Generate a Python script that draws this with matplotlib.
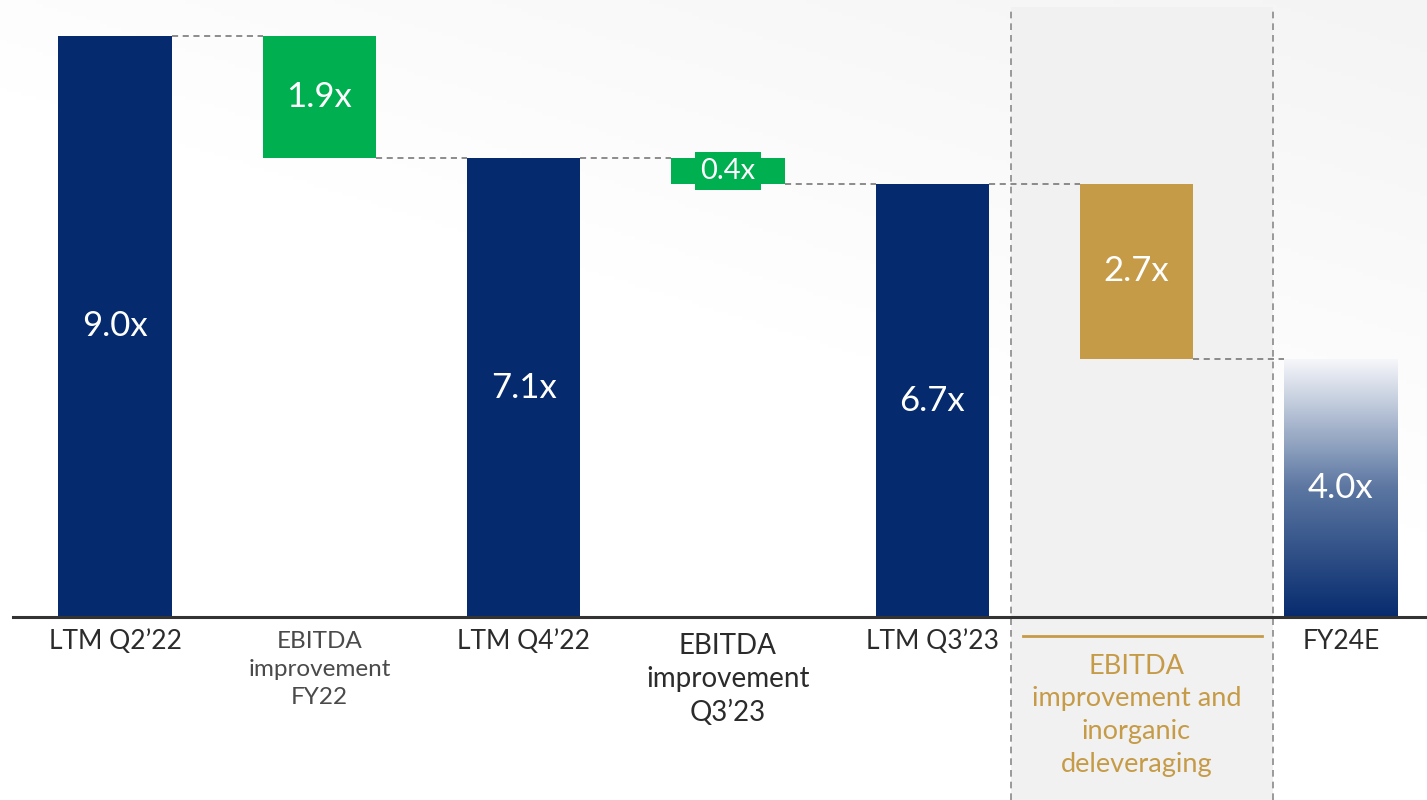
import numpy as np
import matplotlib.pyplot as plt
from matplotlib.colors import LinearSegmentedColormap
from matplotlib.patches import Rectangle

categories = ["LTM Q2’22", "EBITDA\nimprovement\nFY22", "LTM Q4’22",
              "EBITDA\nimprovement\nQ3’23", "LTM Q3’23",
              "EBITDA\nimprovement and\ninorganic\ndeleveraging", "FY24E"]
values = [9.0, -1.9, 7.1, -0.4, 6.7, -2.7, 4.0]
kinds = ["total", "step", "total", "step", "total", "step", "total"]

NAVY = "#052a6d"
GREEN = "#00b050"
GOLD = "#c69b47"
TEXT = "#2b2b2b"

plt.rcParams["font.family"] = ["Lato", "DejaVu Sans"]

XMIN, XMAX = -0.563, 6.422
YMIN, YMAX = -2.833, 9.55

fig = plt.figure(figsize=(14.27, 8), dpi=100)
ax = fig.add_axes([0, 0, 1, 1])
ax.set_xlim(XMIN, XMAX)
ax.set_ylim(YMIN, YMAX)
ax.axis("off")

# faint background sheen, top right
g = np.linspace(0, 1, 200)
X, Y = np.meshgrid(g, g)
sheen = np.clip(0.5 * X + 0.9 * Y - 0.8, 0, 1)
ax.imshow(sheen, extent=(XMIN, XMAX, YMIN, YMAX), origin="lower",
          cmap=LinearSegmentedColormap.from_list("bg", ["#ffffff", "#f4f4f4"]),
          aspect="auto", zorder=0)

# shaded box around the last step
box_l, box_r, box_top = 4.386, 5.668, 9.44
ax.add_patch(Rectangle((box_l, YMIN), box_r - box_l, box_top - YMIN,
                       facecolor="#f1f1f1", edgecolor="none", zorder=1))
for bx in (box_l, box_r):
    ax.plot([bx, bx], [YMIN, box_top], color="#8a8a8a",
            linestyle=(0, (4, 3)), linewidth=1.2, zorder=2)

width = 0.555
x = np.arange(len(values))
running = 0.0
tops, bottoms = [], []
for v, k in zip(values, kinds):
    if k == "total":
        running = v
        bottoms.append(0.0)
        tops.append(v)
    else:
        tops.append(running)
        running = running + v
        bottoms.append(running)
heights = [t - b for t, b in zip(tops, bottoms)]
step_colors = [None, GREEN, None, GREEN, None, GOLD, None]
colors = [c if c else NAVY for c in step_colors]

ax.bar(x[:-1], heights[:-1], width, bottom=bottoms[:-1], color=colors[:-1],
       zorder=3)

# last bar with vertical gradient
last = ax.bar(x[-1], heights[-1] + 0.03, width, bottom=bottoms[-1] - 0.03,
              color="none", zorder=3)[0]
grad = np.linspace(0, 1, 256).reshape(-1, 1)
cmap = LinearSegmentedColormap.from_list("fade", [NAVY, "#5b76a1", "#f7f8fb"])
im = ax.imshow(grad, extent=(x[-1] - width / 2, x[-1] + width / 2,
                             bottoms[-1] - 0.03, tops[-1]),
               origin="lower", cmap=cmap, aspect="auto", zorder=3)
im.set_clip_path(last)

# connectors
for i in range(len(values) - 1):
    level = bottoms[i] if kinds[i] == "step" else tops[i]
    ax.plot([x[i] + width / 2, x[i + 1] - width / 2], [level, level],
            color="#6e6e6e", linestyle=(0, (4, 3)), linewidth=1.1, zorder=2)

# baseline
ax.plot([-0.5, XMAX], [0, 0], color="#333333", linewidth=2.2, zorder=4)

# value labels
for i in range(len(values)):
    mid = (tops[i] + bottoms[i]) / 2
    lbl = f"{abs(values[i]):.1f}x"
    if i == 3:
        ax.text(x[i], mid, lbl, ha="center", va="center", color="white",
                fontsize=21, zorder=5,
                bbox=dict(boxstyle="square,pad=0.2", fc=GREEN, ec="none"))
    else:
        ax.text(x[i], mid, lbl, ha="center", va="center", color="white",
                fontsize=25, zorder=5)

# category labels
label_styles = [
    dict(color=TEXT, fontsize=19, linespacing=1.28),
    dict(color="#4a4a4a", fontsize=17.5, linespacing=1.4),
    dict(color=TEXT, fontsize=19, linespacing=1.28),
    dict(color=TEXT, fontsize=20, linespacing=1.34),
    dict(color=TEXT, fontsize=19, linespacing=1.28),
    dict(color=GOLD, fontsize=19.5, linespacing=1.38),
    dict(color=TEXT, fontsize=19, linespacing=1.28),
]
label_y = [-0.19, -0.22, -0.19, -0.25, -0.19, -0.57, -0.19]
for i, (c, st) in enumerate(zip(categories, label_styles)):
    ax.text(x[i], label_y[i], c, ha="center", va="top", zorder=5, **st)

# gold rule above the forecast label
ax.plot([4.444, 5.614], [-0.3, -0.3], color=GOLD, linewidth=2, zorder=5)

fig.savefig("out.png", dpi=100)
